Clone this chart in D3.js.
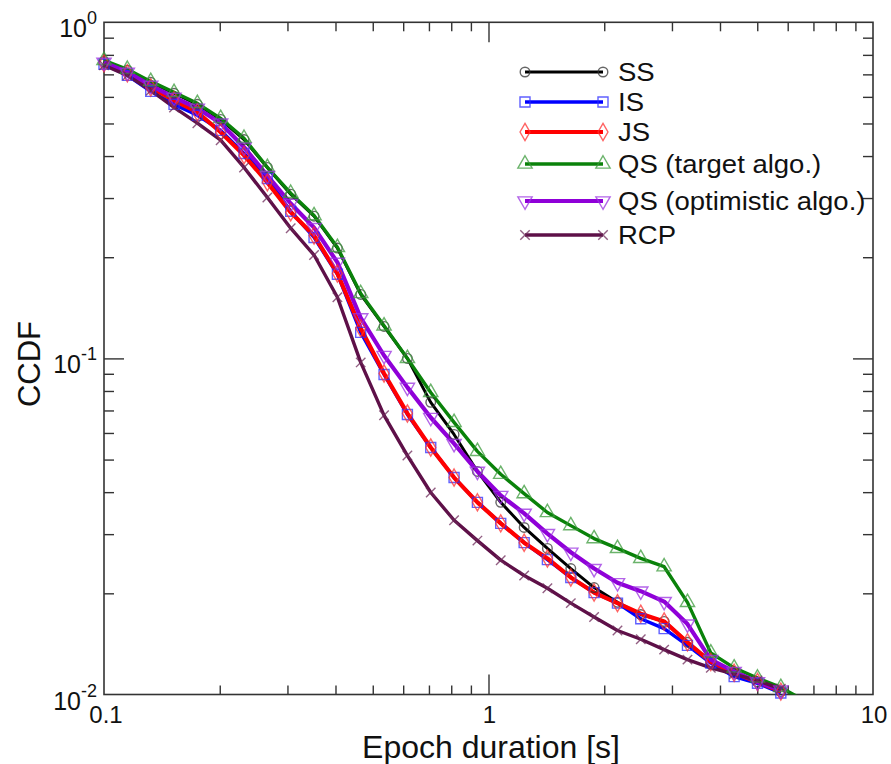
<!DOCTYPE html>
<html>
<head>
<meta charset="utf-8">
<script src="https://cdn.jsdelivr.net/npm/d3@7"></script>
<style>
  body { margin: 0; background: #fff; }
  svg { display: block; }
</style>
</head>
<body>
<svg id="chart" width="891" height="764"></svg>
<script>
/* CCDF of epoch duration, log-log, six schemes */
var DURATION = [0.1, 0.115, 0.1323, 0.1521, 0.1749, 0.2011, 0.2313, 0.266, 0.3059, 0.3518,
  0.4046, 0.4652, 0.535, 0.6153, 0.7076, 0.8137, 0.9358, 1.076, 1.238, 1.423,
  1.637, 1.882, 2.165, 2.489, 2.863, 3.292, 3.786, 4.354, 5.007, 5.758, 6.621];

var SS = [0.765, 0.720, 0.663, 0.615, 0.570, 0.514, 0.448, 0.370, 0.308, 0.265,
  0.213, 0.155, 0.1245, 0.100, 0.0740, 0.0594, 0.0461, 0.0373, 0.0314, 0.0272,
  0.0237, 0.0208, 0.0188, 0.0173, 0.0165, 0.0143, 0.0125, 0.0116, 0.0109, 0.0102];
var IS = [0.750, 0.695, 0.623, 0.570, 0.529, 0.477, 0.407, 0.343, 0.274, 0.229,
  0.178, 0.1195, 0.0896, 0.0681, 0.0543, 0.0442, 0.0373, 0.0323, 0.0283, 0.0252,
  0.0223, 0.0201, 0.0187, 0.0168, 0.0157, 0.0140, 0.0124, 0.0113, 0.0108, 0.0101];
var JS = [0.755, 0.705, 0.640, 0.586, 0.540, 0.471, 0.402, 0.334, 0.272, 0.232,
  0.179, 0.123, 0.0902, 0.0686, 0.0543, 0.0442, 0.0373, 0.0323, 0.0283, 0.0254,
  0.0223, 0.0201, 0.0187, 0.0174, 0.0165, 0.0143, 0.0125, 0.0116, 0.0109, 0.0102];
var QS_TARGET = [0.770, 0.725, 0.667, 0.619, 0.574, 0.518, 0.452, 0.370, 0.310, 0.266,
  0.214, 0.156, 0.125, 0.100, 0.0792, 0.0645, 0.0529, 0.0452, 0.0396, 0.0348,
  0.0318, 0.0291, 0.0272, 0.0254, 0.0240, 0.0188, 0.0133, 0.0120, 0.0112, 0.0105, 0.0096];
var QS_OPT = [0.760, 0.710, 0.649, 0.598, 0.555, 0.501, 0.425, 0.350, 0.289, 0.245,
  0.193, 0.132, 0.102, 0.0820, 0.0667, 0.0558, 0.0461, 0.0391, 0.0346, 0.0301,
  0.0265, 0.0237, 0.0215, 0.0203, 0.0189, 0.0162, 0.0127, 0.0117, 0.0109, 0.0103];
var RCP = [0.745, 0.695, 0.627, 0.558, 0.501, 0.446, 0.370, 0.301, 0.244, 0.203,
  0.152, 0.0973, 0.0677, 0.0514, 0.0399, 0.0330, 0.0287, 0.0251, 0.0226, 0.0207,
  0.0187, 0.0170, 0.0155, 0.0146, 0.0136, 0.0127, 0.0120, 0.0115, 0.0110, 0.0104];

var SERIES_NAMES = ['SS', 'IS', 'JS', 'QS (target algo.)', 'QS (optimistic algo.)', 'RCP'];
var X_MAJOR = [0.1, 1, 10];
var X_LABELS = ['0.1', '1', '10'];
var Y_EXPONENTS = [0, -1, -2];
var X_MINOR = [0.2, 0.3, 0.4, 0.5, 0.6, 0.7, 0.8, 0.9, 2, 3, 4, 5, 6, 7, 8, 9];
var Y_MINOR = [0.02, 0.03, 0.04, 0.05, 0.06, 0.07, 0.08, 0.09, 0.2, 0.3, 0.4, 0.5, 0.6, 0.7, 0.8, 0.9];

(function () {
  var FONT = '"Liberation Sans", Arial, Helvetica, sans-serif';
  var L = 104, R = 873, T = 22.3, B = 694.5;
  var svg = d3.select('#chart');
  var x = d3.scaleLog().domain([0.1, 10]).range([L, R]);
  var y = d3.scaleLog().domain([0.01, 1]).range([B, T]);

  var STYLE = [
    { data: SS, color: '#000000', mark: '#333333', width: 3, sym: d3.symbolCircle, size: 72, rot: 0 },
    { data: IS, color: '#0000ff', mark: '#2a2aff', width: 3.4, sym: d3.symbolSquare, size: 100, rot: 0 },
    { data: JS, color: '#ff0000', mark: '#ff3030', width: 4.2, sym: d3.symbolDiamond, size: 85, rot: 0 },
    { data: QS_TARGET, color: '#0a820a', mark: '#3a9a3a', width: 3.4, sym: d3.symbolTriangle, size: 88, rot: 0 },
    { data: QS_OPT, color: '#8f00d8', mark: '#9a30e0', width: 4.2, sym: d3.symbolTriangle, size: 88, rot: 180 },
    { data: RCP, color: '#5e1048', mark: '#6e2a5a', width: 3.4, sym: d3.symbolX, size: 60, rot: 0 }
  ];

  svg.append('defs').append('clipPath').attr('id', 'plot-clip')
    .append('rect').attr('x', 0).attr('y', 0).attr('width', 891).attr('height', B);

  // ticks (inward on all four sides)
  function ticks(axis, vals, len, tx) {
    var g = svg.append('g').attr('transform', tx)
      .call(axis.tickValues(vals).tickSize(-len).tickFormat(''));
    g.select('.domain').remove();
    g.selectAll('line').attr('stroke', '#333').attr('stroke-width', 1.4);
  }
  ticks(d3.axisBottom(x), X_MINOR, 9, 'translate(0,' + B + ')');
  ticks(d3.axisBottom(x), [1], 20, 'translate(0,' + B + ')');
  ticks(d3.axisTop(x), X_MINOR, 9, 'translate(0,' + T + ')');
  ticks(d3.axisTop(x), [1], 20, 'translate(0,' + T + ')');
  ticks(d3.axisLeft(y), Y_MINOR, 10, 'translate(' + L + ',0)');
  ticks(d3.axisLeft(y), [0.1], 20, 'translate(' + L + ',0)');
  ticks(d3.axisRight(y), Y_MINOR, 10, 'translate(' + R + ',0)');
  ticks(d3.axisRight(y), [0.1], 20, 'translate(' + R + ',0)');

  svg.append('rect').attr('x', L).attr('y', T).attr('width', R - L).attr('height', B - T)
    .attr('fill', 'none').attr('stroke', '#333').attr('stroke-width', 1.6);

  // lines first, markers on top
  var line = d3.line().x(function (d, i) { return x(DURATION[i]); }).y(function (d) { return y(d); });
  var gL = svg.append('g').attr('clip-path', 'url(#plot-clip)');
  STYLE.forEach(function (s) {
    gL.append('path').datum(s.data).attr('d', line).attr('fill', 'none')
      .attr('stroke', s.color).attr('stroke-width', s.width).attr('stroke-linejoin', 'round');
  });
  var gM = svg.append('g');
  STYLE.forEach(function (s) {
    var sym = d3.symbol().type(s.sym).size(s.size)();
    gM.append('g').selectAll('path').data(s.data.slice(0, 30)).enter().append('path')
      .attr('d', sym)
      .attr('transform', function (d, i) { return 'translate(' + x(DURATION[i]) + ',' + y(d) + ') rotate(' + s.rot + ')'; })
      .attr('fill', 'none').attr('stroke', s.mark).attr('stroke-width', 1.4).attr('stroke-opacity', 0.75);
  });

  // tick labels
  X_MAJOR.forEach(function (v, i) {
    svg.append('text').attr('x', x(v) + (i === 0 ? 2 : 1)).attr('y', 723).attr('text-anchor', 'middle')
      .attr('font-family', FONT).attr('font-size', 24).attr('fill', '#111').text(X_LABELS[i]);
  });
  Y_EXPONENTS.forEach(function (e) {
    var t = svg.append('text').attr('x', 97).attr('y', y(Math.pow(10, e)) + 15).attr('text-anchor', 'end')
      .attr('font-family', FONT).attr('font-size', 25).attr('fill', '#111');
    t.append('tspan').text('10');
    t.append('tspan').attr('dy', -13).attr('font-size', 18).text(String(e));
  });

  // axis titles
  svg.append('text').attr('x', 491).attr('y', 758).attr('text-anchor', 'middle')
    .attr('font-family', FONT).attr('font-size', 32).attr('fill', '#111').text('Epoch duration [s]');
  svg.append('text').attr('transform', 'translate(29,364) rotate(-90)').attr('text-anchor', 'middle')
    .attr('dy', '0.35em').attr('font-family', FONT).attr('font-size', 31).attr('fill', '#111').text('CCDF');

  // legend
  var rowY = [72, 102, 132, 164, 201, 235];
  STYLE.forEach(function (s, i) {
    var g = svg.append('g').attr('transform', 'translate(0,' + rowY[i] + ')');
    g.append('line').attr('x1', 525).attr('x2', 603).attr('stroke', s.color).attr('stroke-width', s.width);
    var sym = d3.symbol().type(s.sym).size(s.size)();
    [525, 603].forEach(function (px) {
      g.append('path').attr('d', sym).attr('transform', 'translate(' + px + ',0) rotate(' + s.rot + ')')
        .attr('fill', 'none').attr('stroke', s.mark).attr('stroke-width', 1.4).attr('stroke-opacity', 0.75);
    });
    g.append('text').attr('transform', 'translate(618,9) scale(1.1,1)')
      .attr('font-family', FONT).attr('font-size', 25).attr('fill', '#111').text(SERIES_NAMES[i]);
  });
})();
</script>
</body>
</html>
